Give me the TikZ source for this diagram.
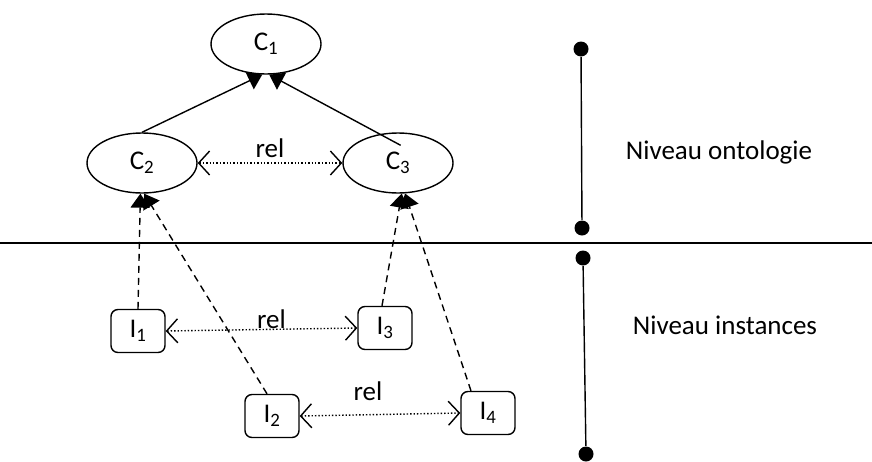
\documentclass[tikz,border=0pt]{standalone}
\usepackage{fontspec}
\setmainfont{Carlito}
\usetikzlibrary{arrows.meta,positioning,shapes.geometric}

\begin{document}
\begin{tikzpicture}[x=1pt,y=-1pt,line width=1.4pt,
  every node/.style={font=\fontsize{27}{32}\selectfont},
  concept/.style={draw,ellipse,minimum width=110pt,minimum height=60pt,inner sep=0pt},
  inst/.style={draw,rounded corners=7pt,minimum width=54pt,minimum height=43pt,inner sep=0pt},
  isa/.style={-{Triangle[length=14pt,width=19pt]}},
  typeof/.style={dash pattern=on 7pt off 5pt,-{Triangle[length=14pt,width=19pt]}},
  relarrow/.style={dotted,{Straight Barb[length=11pt,width=24pt]}-{Straight Barb[length=11pt,width=24pt]}},
  level/.style={fill,circle,inner sep=0pt,minimum size=15pt}]
  \useasboundingbox (0,0) rectangle (872,461);
  % ontology level
  \node[concept] (c1) at (266,44) {C\textsubscript{1}};
  \node[concept] (c2) at (142,163) {C\textsubscript{2}};
  \node[concept] (c3) at (398,163) {C\textsubscript{3}};
  \draw[isa] (c2.north) -- (c1.-97);
  \draw[isa] (c3.north west) ++(42pt,-4pt) -- (c1.-84);
  \draw[relarrow] (c2.east) -- node[above=1pt] {rel} (c3.west);
  % instance level
  \node[inst] (i1) at (138,331) {I\textsubscript{1}};
  \node[inst] (i3) at (385,328) {I\textsubscript{3}};
  \node[inst] (i2) at (272,416) {I\textsubscript{2}};
  \node[inst] (i4) at (488,413) {I\textsubscript{4}};
  \draw[relarrow] (i1.east) -- node[above=-3pt,xshift=10pt] {rel} (i3.west);
  \draw[relarrow] (i2.east) -- node[above=10pt,xshift=-12pt] {rel} (i4.west);
  \draw[typeof] (i1.north) -- (c2.-93);
  \draw[typeof] (i2.north) ++(-5pt,0) -- (c2.-86);
  \draw[typeof] (i3.north) ++(-3pt,0) -- (c3.-83);
  \draw[typeof] (i4.north) ++(-17pt,0) -- (c3.-77);
  % separator and levels
  \coordinate (sepl) at (0,243);
  \coordinate (sepr) at (872,243);
  \draw (sepl) -- (sepr);
  \node[level] (ot) at (581,49) {};
  \node[level] (ob) at (582,228) {};
  \node[level] (it) at (583,258) {};
  \node[level] (ib) at (586,454) {};
  \draw (ot) -- (ob);
  \draw (it) -- (ib);
  \node (onto) at (719,152) {Niveau ontologie};
  \node (insts) at (725,325) {Niveau instances};
\end{tikzpicture}
\end{document}
